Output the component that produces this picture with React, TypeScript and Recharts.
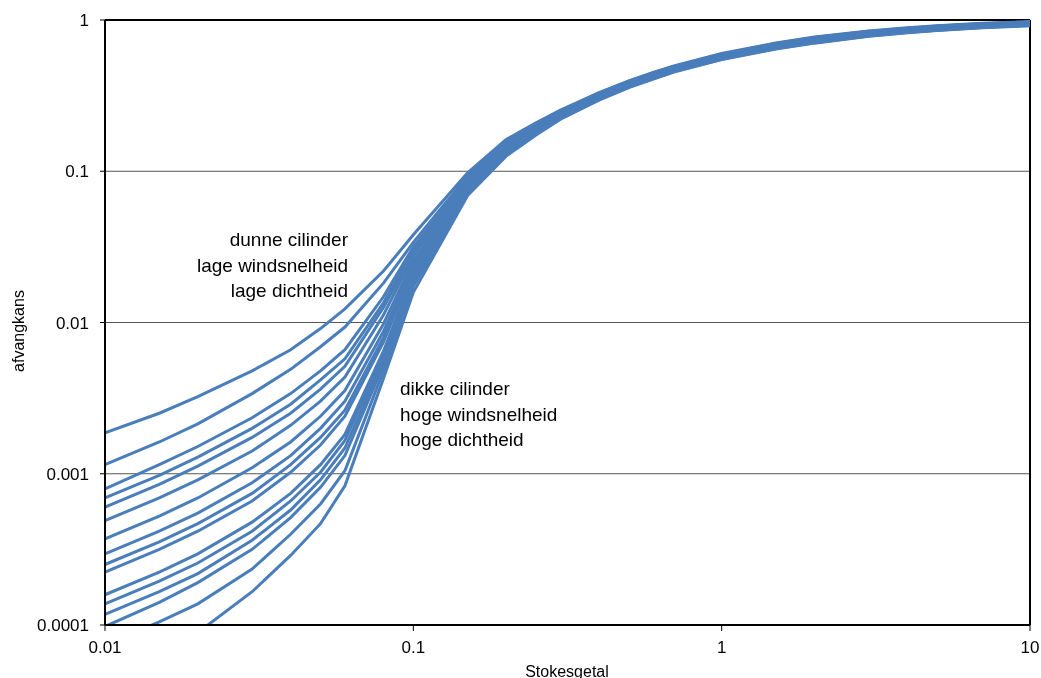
import { LineChart, Line, XAxis, YAxis, CartesianGrid, ReferenceLine } from 'recharts';

const STOKES = [
  0.01, 0.015, 0.02, 0.03, 0.04, 0.05, 0.06, 0.08, 0.1, 0.15, 0.2, 0.25, 0.3, 0.4, 0.5, 0.6, 0.7, 1, 1.5, 2, 3, 4,
  5, 7, 10,
];
const X_TICKS = [0.01, 0.1, 1, 10];
const Y_TICKS = [0.0001, 0.001, 0.01, 0.1, 1];

// log10(afvangkans), one array per curve (top to bottom at St = 0.01)
const CURVE_01 = [-2.73, -2.6, -2.49, -2.32, -2.18, -2.04, -1.91, -1.66, -1.42, -1.01, -0.79, -0.68, -0.596, -0.48, -0.402, -0.346, -0.304, -0.222, -0.152, -0.113, -0.073, -0.052, -0.038, -0.022, -0.01];
const CURVE_02 = [-2.94, -2.79, -2.67, -2.47, -2.31, -2.16, -2.03, -1.74, -1.47, -1.03, -0.8, -0.684, -0.6, -0.483, -0.405, -0.349, -0.307, -0.225, -0.155, -0.116, -0.075, -0.054, -0.04, -0.024, -0.012];
const CURVE_03 = [-3.1, -2.94, -2.82, -2.63, -2.47, -2.32, -2.18, -1.83, -1.5, -1.05, -0.81, -0.69, -0.604, -0.487, -0.408, -0.352, -0.309, -0.227, -0.157, -0.118, -0.078, -0.056, -0.042, -0.026, -0.014];
const CURVE_04 = [-3.16, -3.01, -2.89, -2.7, -2.54, -2.38, -2.24, -1.87, -1.52, -1.07, -0.82, -0.695, -0.608, -0.49, -0.411, -0.355, -0.312, -0.23, -0.16, -0.121, -0.08, -0.059, -0.044, -0.028, -0.016];
const CURVE_05 = [-3.22, -3.07, -2.95, -2.76, -2.6, -2.44, -2.29, -1.9, -1.54, -1.08, -0.83, -0.7, -0.612, -0.493, -0.414, -0.358, -0.315, -0.233, -0.163, -0.124, -0.082, -0.061, -0.047, -0.03, -0.017];
const CURVE_06 = [-3.31, -3.16, -3.04, -2.85, -2.68, -2.52, -2.36, -1.95, -1.56, -1.09, -0.83, -0.706, -0.616, -0.497, -0.417, -0.361, -0.317, -0.235, -0.165, -0.126, -0.085, -0.063, -0.049, -0.032, -0.019];
const CURVE_07 = [-3.43, -3.28, -3.16, -2.96, -2.79, -2.62, -2.45, -2.01, -1.59, -1.1, -0.84, -0.71, -0.62, -0.5, -0.42, -0.364, -0.32, -0.238, -0.168, -0.129, -0.087, -0.065, -0.051, -0.034, -0.021];
const CURVE_08 = [-3.53, -3.38, -3.26, -3.06, -2.88, -2.7, -2.52, -2.06, -1.61, -1.11, -0.85, -0.716, -0.624, -0.503, -0.423, -0.367, -0.323, -0.241, -0.171, -0.132, -0.089, -0.067, -0.053, -0.036, -0.023];
const CURVE_09 = [-3.6, -3.45, -3.33, -3.13, -2.94, -2.76, -2.58, -2.1, -1.63, -1.12, -0.85, -0.72, -0.628, -0.507, -0.426, -0.37, -0.325, -0.243, -0.173, -0.134, -0.092, -0.07, -0.055, -0.038, -0.025];
const CURVE_10 = [-3.65, -3.5, -3.38, -3.18, -2.99, -2.81, -2.62, -2.13, -1.65, -1.12, -0.86, -0.727, -0.632, -0.51, -0.429, -0.373, -0.328, -0.246, -0.176, -0.137, -0.094, -0.072, -0.057, -0.04, -0.027];
const CURVE_11 = [-3.8, -3.65, -3.53, -3.32, -3.13, -2.94, -2.74, -2.19, -1.68, -1.13, -0.87, -0.732, -0.636, -0.513, -0.432, -0.376, -0.331, -0.249, -0.179, -0.14, -0.096, -0.074, -0.059, -0.042, -0.029];
const CURVE_12 = [-3.86, -3.71, -3.59, -3.38, -3.18, -2.99, -2.78, -2.22, -1.7, -1.14, -0.87, -0.738, -0.64, -0.517, -0.435, -0.379, -0.333, -0.251, -0.181, -0.142, -0.099, -0.076, -0.061, -0.044, -0.031];
const CURVE_13 = [-3.93, -3.78, -3.66, -3.44, -3.24, -3.04, -2.83, -2.25, -1.72, -1.14, -0.88, -0.743, -0.644, -0.52, -0.438, -0.382, -0.336, -0.254, -0.184, -0.145, -0.101, -0.078, -0.064, -0.046, -0.032];
const CURVE_14 = [-4.01, -3.85, -3.72, -3.5, -3.29, -3.09, -2.88, -2.28, -1.74, -1.15, -0.89, -0.748, -0.648, -0.523, -0.441, -0.385, -0.339, -0.257, -0.187, -0.148, -0.103, -0.081, -0.066, -0.048, -0.034];
const CURVE_15 = [-4.13, -3.98, -3.86, -3.63, -3.4, -3.2, -2.98, -2.32, -1.76, -1.15, -0.89, -0.754, -0.652, -0.527, -0.444, -0.388, -0.341, -0.259, -0.189, -0.15, -0.106, -0.083, -0.068, -0.05, -0.036];
const CURVE_16 = [-4.45, -4.22, -4.05, -3.78, -3.54, -3.33, -3.08, -2.37, -1.8, -1.16, -0.9, -0.76, -0.656, -0.53, -0.447, -0.391, -0.344, -0.262, -0.192, -0.153, -0.108, -0.085, -0.07, -0.052, -0.038];

const CURVES = [
  CURVE_01, CURVE_02, CURVE_03, CURVE_04, CURVE_05, CURVE_06, CURVE_07, CURVE_08,
  CURVE_09, CURVE_10, CURVE_11, CURVE_12, CURVE_13, CURVE_14, CURVE_15, CURVE_16,
];

const LINE_COLOR = '#4a7ebb';

const data = STOKES.map((x, i) => {
  const row: Record<string, number> = { x };
  CURVES.forEach((curve, k) => {
    row[`c${k}`] = Math.pow(10, curve[i]);
  });
  return row;
});

const textStyle = {
  fontSize: 19,
  color: '#000',
  lineHeight: '25.5px',
  position: 'absolute' as const,
  whiteSpace: 'nowrap' as const,
};

export default function App() {
  return (
    <div
      style={{
        position: 'fixed',
        left: 8,
        top: 8,
        width: 1033,
        height: 670,
        fontFamily: "'Liberation Sans', Arial, sans-serif",
      }}
    >
      <LineChart
        width={1033}
        height={670}
        data={data}
        margin={{ top: 12, right: 11, left: 0, bottom: 0 }}
        style={{ overflow: 'visible' }}
      >
        <CartesianGrid vertical={false} stroke="#555" strokeWidth={1} />
        <XAxis
          dataKey="x"
          type="number"
          scale="log"
          domain={[0.01, 10]}
          ticks={X_TICKS}
          allowDataOverflow
          height={53}
          tick={{ fontSize: 17, fill: '#000' }}
          tickSize={6}
          tickMargin={10}
          axisLine={{ stroke: '#000', strokeWidth: 2 }}
          tickLine={{ stroke: '#000' }}
          label={{
            content: () => (
              <text x={559} y={663} textAnchor="middle" dominantBaseline="central" fontSize={16} fill="#000">
                Stokesgetal
              </text>
            ),
          }}
        />
        <YAxis
          type="number"
          scale="log"
          domain={[0.0001, 1]}
          ticks={Y_TICKS}
          allowDataOverflow
          width={97}
          tick={{ fontSize: 17, fill: '#000' }}
          tickSize={5}
          tickMargin={11}
          axisLine={{ stroke: '#000', strokeWidth: 2 }}
          tickLine={{ stroke: '#000' }}
          label={{
            content: () => (
              <text
                x={10}
                y={323}
                transform="rotate(-90 10 323)"
                textAnchor="middle"
                dominantBaseline="central"
                fontSize={16}
                fill="#000"
              >
                afvangkans
              </text>
            ),
          }}
        />
        <ReferenceLine y={1} stroke="#000" strokeWidth={2} />
        <ReferenceLine x={10} stroke="#000" strokeWidth={2} />
        {CURVES.map((_, k) => (
          <Line
            key={k}
            dataKey={`c${k}`}
            type="linear"
            stroke={LINE_COLOR}
            strokeWidth={3}
            dot={false}
            activeDot={false}
            isAnimationActive={false}
          />
        ))}
      </LineChart>
      <div style={{ ...textStyle, right: 693, top: 219, textAlign: 'right' }}>
        dunne cilinder
        <br />
        lage windsnelheid
        <br />
        lage dichtheid
      </div>
      <div style={{ ...textStyle, left: 392, top: 368 }}>
        dikke cilinder
        <br />
        hoge windsnelheid
        <br />
        hoge dichtheid
      </div>
    </div>
  );
}
